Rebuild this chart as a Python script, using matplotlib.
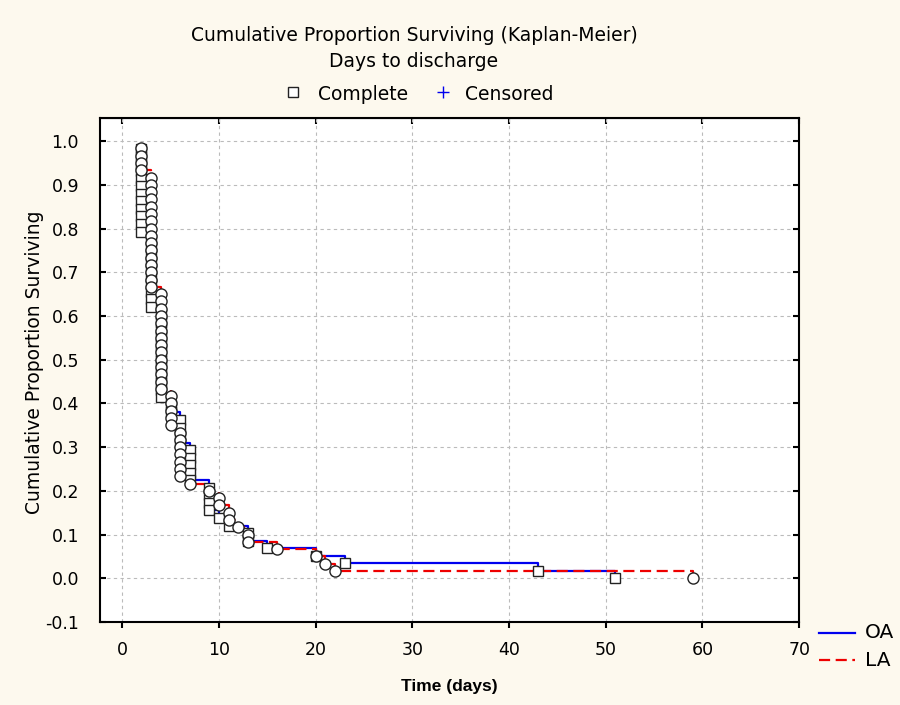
import matplotlib
matplotlib.use("Agg")
import matplotlib.pyplot as plt
from matplotlib.lines import Line2D
import numpy as np

plt.rcParams['font.family'] = ['DejaVu Sans']

# event times (days to discharge) and number of discharges at each time, no censoring
oa_times = [2, 3, 4, 5, 6, 7, 9, 10, 11, 13, 15, 20, 23, 43, 51]
oa_events = [12, 10, 12, 2, 4, 5, 4, 1, 1, 2, 1, 1, 1, 1, 1]
la_times = [2, 3, 4, 5, 6, 7, 9, 10, 11, 12, 13, 16, 20, 21, 22, 59]
la_events = [4, 16, 14, 5, 7, 1, 1, 2, 2, 1, 2, 1, 1, 1, 1, 1]

x_ticks = [0, 10, 20, 30, 40, 50, 60, 70]
y_ticks = [-0.1, 0.0, 0.1, 0.2, 0.3, 0.4, 0.5, 0.6, 0.7, 0.8, 0.9, 1.0]


def kaplan_meier(times, events):
    n = sum(events)
    at_risk = n
    surv = 1.0
    steps = []
    pts_t, pts_s = [], []
    for t, d in zip(times, events):
        # one marker per observation
        for k in range(d):
            pts_t.append(t)
            pts_s.append(surv * (at_risk - k - 1) / at_risk)
        surv = surv * (at_risk - d) / at_risk
        at_risk -= d
        steps.append(surv)
    return np.array(times), np.array(steps), np.array(pts_t), np.array(pts_s)


oa_t, oa_s, oa_pt, oa_ps = kaplan_meier(oa_times, oa_events)
la_t, la_s, la_pt, la_ps = kaplan_meier(la_times, la_events)

bg = '#fdf9ee'
blue = '#0000ee'
red = '#ee0000'
dash = (0, (5, 2.5))

fig = plt.figure(figsize=(9, 7.05), dpi=100, facecolor=bg)
ax = fig.add_axes([0.111, 0.1177, 0.777, 0.715])
ax.set_facecolor('white')

ax.plot(oa_t, oa_s, color=blue, lw=1.6, drawstyle='steps-post', zorder=2)
ax.plot(la_t, la_s, color=red, lw=1.6, ls=dash, drawstyle='steps-post', zorder=2)
ax.plot(oa_pt, oa_ps, 's', ms=7.5, mfc='white', mec='#222222', mew=1.0, zorder=3)
ax.plot(la_pt, la_ps, 'o', ms=8, mfc='white', mec='#222222', mew=1.0, zorder=4)

ax.set_xlim(-2.3, 70)
ax.set_ylim(-0.1, 1.053)
ax.set_xticks(x_ticks)
ax.set_yticks(y_ticks)
ax.set_yticklabels(['%.1f' % v for v in y_ticks])
ax.grid(True, color='#bbbbbb', ls=(0, (3, 3)), lw=0.8)
ax.set_axisbelow(True)
for sp in ax.spines.values():
    sp.set_linewidth(1.5)
ax.tick_params(axis='y', direction='in', right=True, length=4, width=1.5,
               labelsize=12.5, pad=15)
ax.tick_params(axis='x', direction='out', length=4, width=1.5,
               labelsize=12.5, pad=10)
top = ax.secondary_xaxis('top')
top.set_xticks(x_ticks)
top.set_xticklabels([])
top.tick_params(direction='in', length=4, width=1.5)

ax.set_ylabel('Cumulative Proportion Surviving', fontsize=13.5)
ax.yaxis.set_label_coords(-0.08, 0.516)
ax.set_xlabel('Time (days)', fontsize=12.5, fontweight='bold',
              family=['Liberation Sans', 'DejaVu Sans'])
ax.xaxis.set_label_coords(0.5, -0.114)

fig.text(0.46, 1 - 41 / 705, 'Cumulative Proportion Surviving (Kaplan-Meier)',
         ha='center', va='baseline', fontsize=13.5)
fig.text(0.46, 1 - 67 / 705, 'Days to discharge', ha='center', va='baseline',
         fontsize=13.5)

# top legend: Complete / Censored
ly = 1 - 92 / 705
fig.add_artist(Line2D([293 / 900], [ly], ls='none', marker='s', ms=7, mfc='white',
                      mec='#222222', mew=1.0, transform=fig.transFigure))
fig.text(318 / 900, 1 - 100 / 705, 'Complete', ha='left', va='baseline', fontsize=13.5)
fig.add_artist(Line2D([443 / 900], [ly], ls='none', marker='+', ms=8, mec=blue,
                      mew=1.0, transform=fig.transFigure))
fig.text(465 / 900, 1 - 100 / 705, 'Censored', ha='left', va='baseline', fontsize=13.5)

# group legend: OA / LA
for name, col, style, ypx in [('OA', blue, '-', 633), ('LA', red, dash, 660)]:
    yy = 1 - ypx / 705
    fig.add_artist(Line2D([819 / 900, 855 / 900], [yy, yy], color=col, lw=1.6, ls=style,
                          transform=fig.transFigure))
    fig.text(865 / 900, yy, name, ha='left', va='center', fontsize=14.5)

fig.savefig('out.png', dpi=100, facecolor=bg)
